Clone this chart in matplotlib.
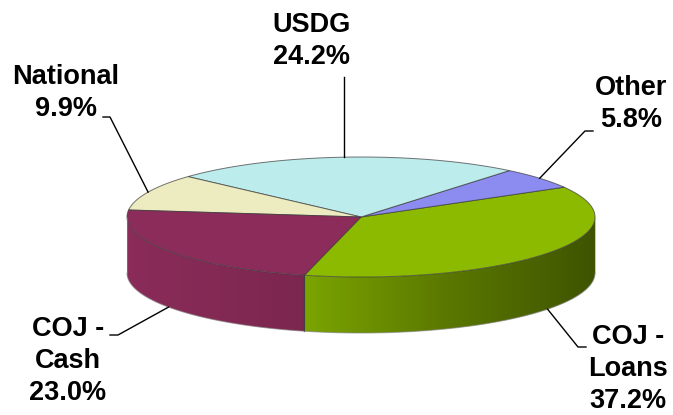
import numpy as np
import matplotlib
matplotlib.use("Agg")
import matplotlib.pyplot as plt
from matplotlib.patches import Polygon
from matplotlib.colors import to_rgb, to_rgba

labels = ["COJ -\nLoans", "Other", "USDG", "National", "COJ -\nCash"]
shares = [37.2, 5.8, 24.2, 9.9, 23.0]
colors = ["#8cba00", "#8c8cf0", "#bdeced", "#ececc0", "#8c2c5a"]

# label layout in pixels: text centre, leader elbow, leader tail
label_pos = [(628, 369), (631, 104), (312, 41), (66, 93), (68, 361)]
elbow_pos = [(578, 347), (585, 131), None, (110, 117), (118, 335)]
tail_pos = [(586, 347), (593, 131), None, (103, 117), (110, 335)]

# pie geometry (pixels) and start angle of the first slice
CX, CY, RX, RY, DEPTH = 361, 217, 234, 60, 56
START = -104
W, H = 673, 415


def rim(t, drop=0.0):
    r = np.radians(t)
    return CX + RX * np.cos(r), CY - RY * np.sin(r) + drop


def side_shade(x):
    # light comes from the left, side wall darkens toward the right
    u = (x - CX) / RX
    return np.interp(u, [-1.0, -0.24, 0.38, 1.0], [0.99, 0.88, 0.64, 0.45])


fig = plt.figure(figsize=(6.73, 4.15), dpi=100)
ax = fig.add_axes([0, 0, 1, 1])

spans = np.array(shares) / sum(shares) * 360
ends = START + np.cumsum(spans)
starts = ends - spans
edge_col = to_rgba("#3a3a3a", 0.7)
shade_row = side_shade(np.arange(W) + 0.5)

# side walls (front half only) with a horizontal gradient
for a1, a2, col in zip(starts, ends, colors):
    t = np.linspace(a1, a2, 400)
    t = t[np.sin(np.radians(t)) <= 0.001]
    if len(t) < 2:
        continue
    xs, ys = rim(t)
    pts = list(zip(xs, ys)) + list(zip(xs[::-1], ys[::-1] + DEPTH))
    poly = Polygon(pts, closed=True, facecolor="none", edgecolor="none")
    ax.add_patch(poly)
    img = np.clip(shade_row[None, :, None] * np.array(to_rgb(col))[None, None, :], 0, 1)
    img = np.repeat(img, 2, axis=0)
    im = ax.imshow(img, extent=(0, W, H, 0), aspect="auto", interpolation="bilinear")
    im.set_clip_path(poly)
    # vertical seams where slice boundaries sit on the front
    for a in (a1, a2):
        if np.sin(np.radians(a)) < -0.05:
            x, y = rim(a)
            ax.plot([x, x], [y, y + DEPTH], color=edge_col, lw=0.8)

# outline of the bottom edge and outer verticals
tb = np.linspace(180, 360, 200)
bx, by = rim(tb, DEPTH)
ax.plot(bx, by, color=to_rgba("#808080", 0.6), lw=0.8)
for a in (180, 360):
    x, y = rim(a)
    ax.plot([x, x], [y, y + DEPTH], color=to_rgba("#909090", 0.5), lw=0.8)

# top faces
for a1, a2, col in zip(starts, ends, colors):
    t = np.linspace(a1, a2, 120)
    xs, ys = rim(t)
    pts = [(CX, CY)] + list(zip(xs, ys))
    ax.add_patch(Polygon(pts, closed=True, facecolor=col, edgecolor=edge_col, lw=0.7))

# labels and leader lines
for i, (lab, val) in enumerate(zip(labels, shares)):
    mid = (starts[i] + ends[i]) / 2
    drop = DEPTH if np.sin(np.radians(mid)) < 0 else 0
    px, py = rim(mid, drop)
    if elbow_pos[i] is None:
        ax.plot([px, px], [py, 77], color="black", lw=1)
    else:
        ex, ey = elbow_pos[i]
        sx, sy = tail_pos[i]
        ax.plot([px, ex, sx], [py, ey, sy], color="black", lw=1)
    ax.text(label_pos[i][0], label_pos[i][1], f"{lab}\n{val:.1f}%",
            ha="center", va="center", fontsize=19.5, fontweight="bold",
            family="Liberation Sans", linespacing=1.3)

ax.set_xlim(0, W)
ax.set_ylim(H, 0)
ax.axis("off")

fig.savefig("out.png", dpi=100)
